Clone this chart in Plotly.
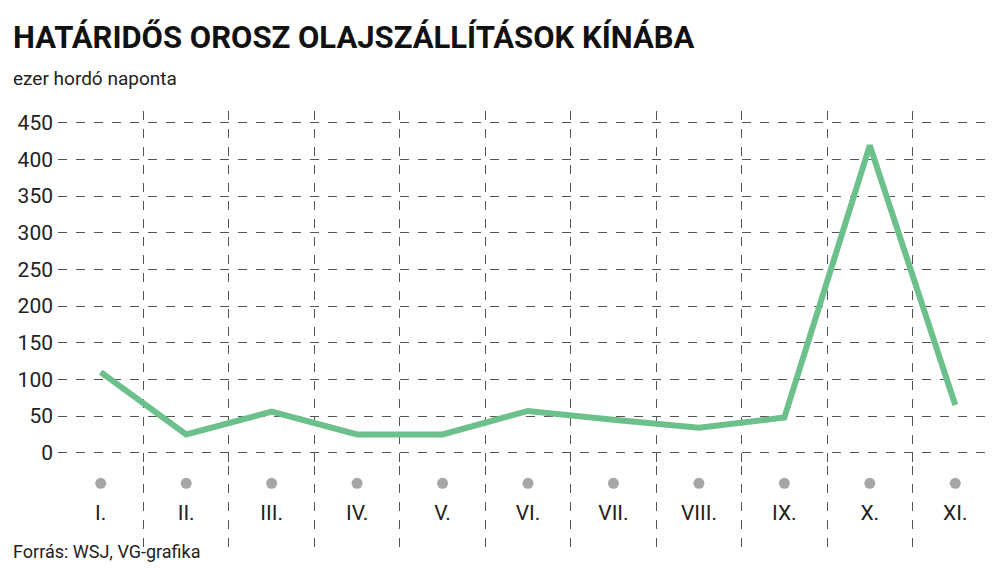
import plotly.graph_objects as go

months = ["I.", "II.", "III.", "IV.", "V.", "VI.", "VII.", "VIII.", "IX.", "X.", "XI."]
values = [110, 25, 56, 25, 25, 57, 45, 34, 48, 419, 65]
yticks = [0, 50, 100, 150, 200, 250, 300, 350, 400, 450]

xs = list(range(len(months)))
fig = go.Figure()
fig.add_trace(go.Scatter(x=xs, y=values, mode="lines",
                         line=dict(color="#6cc08b", width=6), cliponaxis=False))
fig.add_trace(go.Scatter(x=xs, y=[0.80] * len(xs), mode="markers", yaxis="y2",
                         marker=dict(color="#a6a6a6", size=11), cliponaxis=False))
fig.add_trace(go.Scatter(x=xs, y=[0.44] * len(xs), mode="text", text=months, yaxis="y2",
                         textfont=dict(size=21, color="#222"), cliponaxis=False))

fig.update_layout(
    width=1000, height=568, showlegend=False,
    paper_bgcolor="white", plot_bgcolor="white",
    margin=dict(l=50, r=10, t=103, b=23),
    font=dict(family="Roboto", color="#222"),
    xaxis=dict(range=[-0.5, 10.5], tickvals=xs, showticklabels=False, showgrid=False,
               zeroline=False, ticks="", anchor="y",
               minor=dict(tickvals=[i - 0.5 for i in range(12)], showgrid=True,
                          gridcolor="#555", griddash="dash", gridwidth=1)),
    yaxis=dict(domain=[0.197, 1], range=[-18, 466], tickvals=yticks, showgrid=True, gridcolor="#555",
               griddash="dash", gridwidth=1, zeroline=False, ticks="",
               tickfont=dict(size=21, color="#222"), ticklabelstandoff=4),
    yaxis2=dict(domain=[0, 0.197], range=[0, 1], visible=False, showgrid=False),
    annotations=[
        dict(text="<b>HATÁRIDŐS OROSZ OLAJSZÁLLÍTÁSOK KÍNÁBA</b>", x=0, y=1, xref="paper", yref="paper",
             xanchor="left", yanchor="top", showarrow=False, font=dict(size=31, color="#111"),
             xshift=-47, yshift=94),
        dict(text="ezer hordó naponta", x=0, y=1, xref="paper", yref="paper",
             xanchor="left", yanchor="top", showarrow=False, font=dict(size=19, color="#222"),
             xshift=-47, yshift=46),
        dict(text="Forrás: WSJ, VG-grafika", x=0, y=0, xref="paper", yref="paper",
             xanchor="left", yanchor="top", showarrow=False, font=dict(size=18, color="#222"),
             xshift=-47, yshift=14),
    ],
)
fig.write_html("out.html")
